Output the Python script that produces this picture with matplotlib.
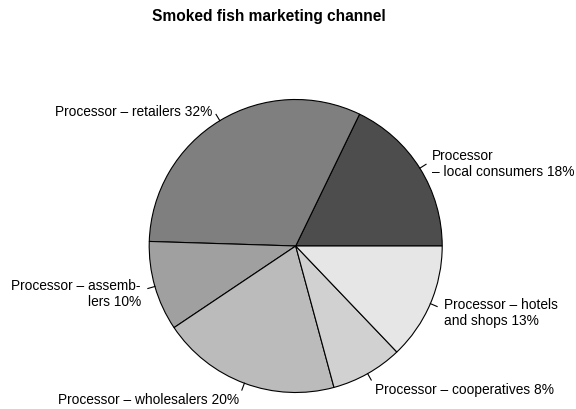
import numpy as np
import matplotlib.pyplot as plt

plt.rcParams['font.family'] = ['Liberation Sans', 'DejaVu Sans']

labels = ['Processor\n\u2013 local consumers 18%',
          'Processor \u2013 retailers 32%',
          'Processor \u2013 assemb-\nlers 10%',
          'Processor \u2013 wholesalers 20%',
          'Processor \u2013 cooperatives 8%',
          'Processor \u2013 hotels\nand shops 13%']
shares = [18, 32, 10, 20, 8, 13]
colors = ['#4D4D4D', '#7F7F7F', '#A0A0A0', '#BBBBBB', '#D1D1D1', '#E6E6E6']

# pixel layout (y measured upward)
W, H = 576, 410
cx, cy, r = 295.7, 163, 146.5

fig = plt.figure(figsize=(W / 100, H / 100), dpi=100)
ax = fig.add_axes([0, 0, 1, 1])

wedges, _ = ax.pie(shares, colors=colors, startangle=0,
                   counterclock=True, center=(cx, cy), radius=r,
                   wedgeprops=dict(edgecolor='black', linewidth=0.8))

# tick line and label at each slice's mid angle, R style
for w, lab in zip(wedges, labels):
    a = np.deg2rad((w.theta1 + w.theta2) / 2)
    c, s = np.cos(a), np.sin(a)
    ax.plot([cx + r * c, cx + 1.05 * r * c], [cy + r * s, cy + 1.05 * r * s],
            color='black', lw=0.8)
    ax.text(cx + 1.1 * r * c, cy + 1.1 * r * s - 2.5, lab,
            ha='left' if c > 0 else 'right', va='center',
            fontsize=9.9, linespacing=1.13)

ax.set_xlim(0, W)
ax.set_ylim(0, H)
ax.set_aspect('equal')
ax.axis('off')

fig.text(268.5 / W, 1 - 17 / H, 'Smoked fish marketing channel',
         ha='center', va='center', fontsize=11.2, fontweight='bold')

fig.savefig('out.png', dpi=100)
